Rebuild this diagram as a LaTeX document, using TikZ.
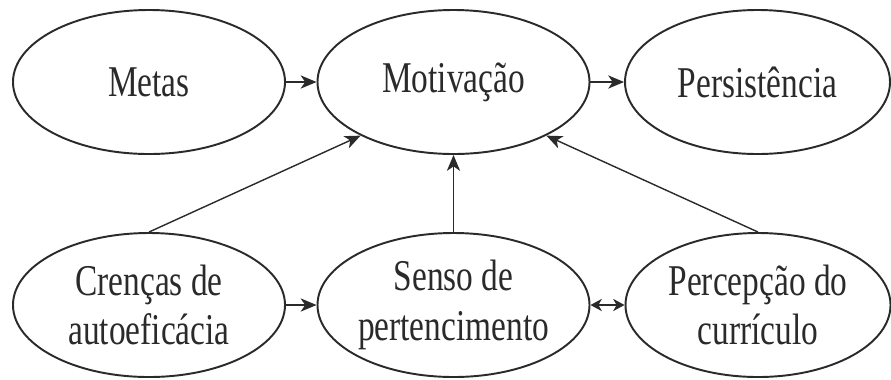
\documentclass[tikz,border=0pt]{standalone}
\usepackage{fontspec}
\setmainfont[FakeStretch=0.76]{Liberation Serif}
\usetikzlibrary{shapes.geometric,arrows.meta}

\definecolor{inkgray}{HTML}{2A2A2A}

\tikzset{
    bubble/.style={draw=inkgray, ellipse, line width=1.1pt, minimum width=5.44cm, minimum height=2.88cm, inner sep=0pt, align=center, text=inkgray, font=\fontsize{25}{28}\selectfont},
    link/.style={->, draw=inkgray, line width=0.8pt},
    >={Stealth[length=9pt,width=7.5pt,inset=2.5pt]}
}

\begin{document}
\begin{tikzpicture}
        \useasboundingbox (0,0) rectangle (17.82,-7.58);

        % Top row
        \node[bubble] (metas) at (2.98,-1.64) {Metas};
        \node[bubble] (motiv) at (9.07,-1.64) {Motivação};
        \node[bubble, minimum width=5.3cm] (persist) at (15.15,-1.64) {Persistência};

        % Bottom row
        \node[bubble] (crencas) at (2.98,-6.1) {Crenças de\\autoeficácia};
        \node[bubble] (senso) at (9.07,-6.1) {Senso de\\pertencimento};
        \node[bubble, minimum width=5.3cm] (percep) at (15.16,-6.1) {Percepção do\\currículo};

        % Connect nodes
        \draw[link] (metas) -- (motiv);
        \draw[link] (motiv) -- (persist);
        \draw[link] (crencas) -- (senso);
        \draw[link, {Stealth[length=6.5pt,width=7pt,inset=2pt]}-{Stealth[length=6.5pt,width=7pt,inset=2pt]}] (senso) -- (percep);
        \draw[link] (crencas.north) -- (motiv.210);
        \draw[link] (senso.north) -- (motiv.south);
        \draw[link] (percep.north) -- (motiv.-30);
    \end{tikzpicture}
\end{document}
